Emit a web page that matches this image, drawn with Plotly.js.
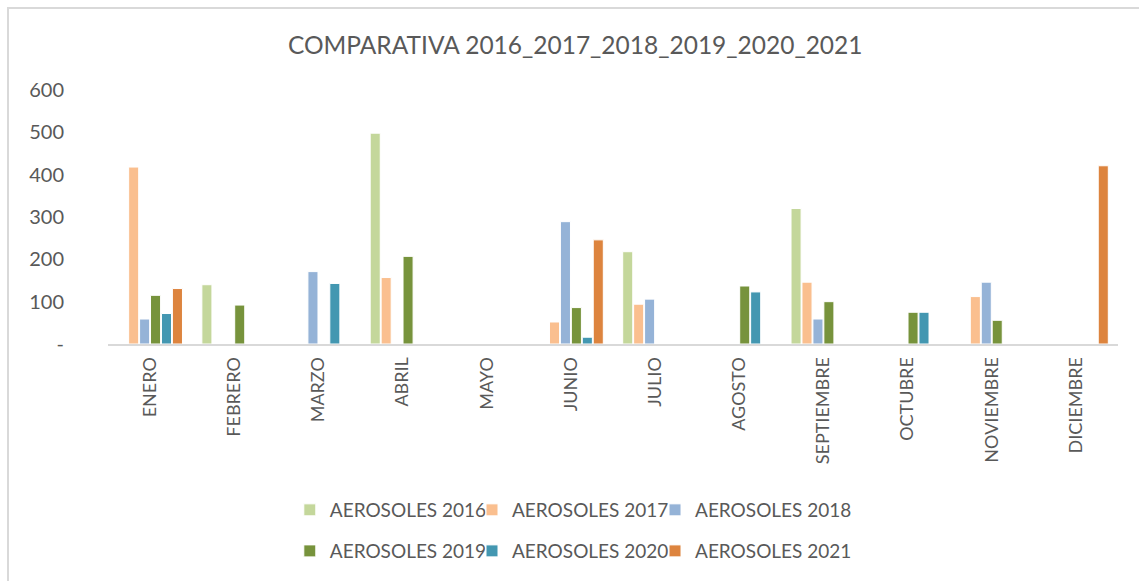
<!DOCTYPE html>
<html>
<head>
<meta charset="utf-8">
<script src="https://cdn.plot.ly/plotly-3.0.1.min.js"></script>
<style>
  body { margin: 0; background: #fff; }
  #chart { position: absolute; left: 0; top: 0; width: 1139px; height: 581px; }
  #frame { position: absolute; left: 7px; top: 7px; width: 1200px; height: 600px;
           border-left: 2px solid #d9d9d9; border-top: 2px solid #d9d9d9; pointer-events: none; }
</style>
</head>
<body>
<div id="chart"></div>
<div id="frame"></div>
<script>
// meses
var months = ['ENERO', 'FEBRERO', 'MARZO', 'ABRIL', 'MAYO', 'JUNIO', 'JULIO',
              'AGOSTO', 'SEPTIEMBRE', 'OCTUBRE', 'NOVIEMBRE', 'DICIEMBRE'];

// valores (null = sin dato)
var aero2016 = [null, 140, null, 498, null, null, 218, null, 320, null, null, null];
var aero2017 = [418, null, null, 157, null, 52, 94, null, 146, null, 112, null];
var aero2018 = [59, null, 171, null, null, 289, 106, null, 59, null, 146, null];
var aero2019 = [115, 92, null, 207, null, 86, null, 137, 100, 75, 56, null];
var aero2020 = [72, null, 143, null, null, 16, null, 123, null, 75, null, null];
var aero2021 = [131, null, null, null, null, 246, null, null, null, null, null, 421];

var seriesNames = ['AEROSOLES 2016', 'AEROSOLES 2017', 'AEROSOLES 2018',
                   'AEROSOLES 2019', 'AEROSOLES 2020', 'AEROSOLES 2021'];
var seriesData = [aero2016, aero2017, aero2018, aero2019, aero2020, aero2021];
var colors = ['#c4d79b', '#fabf8f', '#95b3d7', '#77933c', '#4397b1', '#dd843e'];

var yTicks = [0, 100, 200, 300, 400, 500, 600];
var yTickText = ['-', '100', '200', '300', '400', '500', '600'];

var fontFam = 'Lato, "Liberation Sans", sans-serif';
var grey = '#595959';

// una leyenda por serie, 3 columnas x 2 filas
var legendCols = [0.18, 0.3604, 0.5416];
var legendRows = [-0.647, -0.808];
var legendIds = ['legend', 'legend2', 'legend3', 'legend4', 'legend5', 'legend6'];

var traces = seriesData.map(function (vals, i) {
    return {
        type: 'bar',
        name: seriesNames[i],
        x: months,
        y: vals,
        marker: { color: colors[i], line: { color: '#ffffff', width: 1 } },
        legend: legendIds[i]
    };
});

var layout = {
    width: 1139,
    height: 581,
    margin: { l: 108, r: 21, t: 90, b: 236 },
    paper_bgcolor: '#ffffff',
    plot_bgcolor: '#ffffff',
    title: {
        text: 'COMPARATIVA 2016_2017_2018_2019_2020_2021',
        font: { family: fontFam, size: 24.5, color: grey },
        x: 0.505, xanchor: 'center',
        y: 0.922, yanchor: 'middle'
    },
    barmode: 'group',
    bargap: 0.22,
    bargroupgap: 0.08,
    xaxis: {
        type: 'category',
        showline: true,
        linecolor: '#d9d9d9',
        linewidth: 2,
        showgrid: false,
        ticks: '',
        tickangle: -90,
        ticklabelstandoff: 4,
        tickfont: { family: fontFam, size: 18, color: grey }
    },
    yaxis: {
        range: [0, 600],
        showline: false,
        showgrid: false,
        zeroline: false,
        tickmode: 'array',
        tickvals: yTicks,
        ticktext: yTickText,
        ticks: '',
        ticklabelstandoff: 43,
        tickfont: { family: fontFam, size: 20, color: grey }
    },
    showlegend: true
};

legendIds.forEach(function (id, i) {
    layout[id] = {
        orientation: 'h',
        x: legendCols[i % 3], xanchor: 'left',
        y: legendRows[Math.floor(i / 3)], yanchor: 'middle',
        font: { family: fontFam, size: 19, color: grey },
        itemwidth: 30,
        bgcolor: 'rgba(0,0,0,0)'
    };
});

Plotly.newPlot('chart', traces, layout, { displayModeBar: false, staticPlot: true });
</script>
</body>
</html>
